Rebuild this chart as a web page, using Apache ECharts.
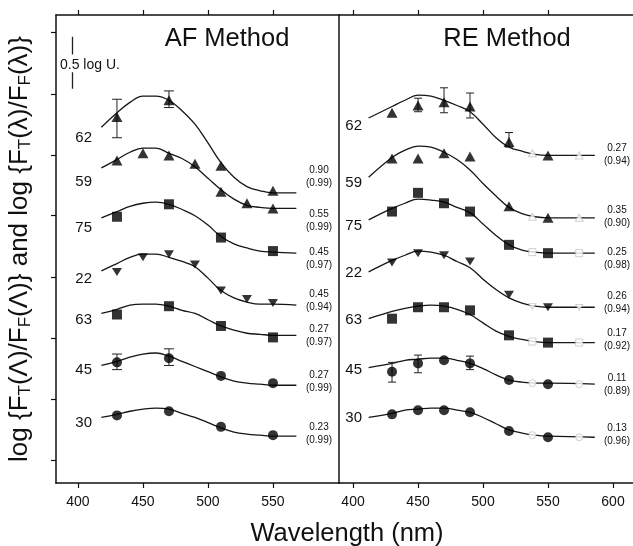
<!DOCTYPE html>
<html><head><meta charset="utf-8">
<script src="https://cdn.jsdelivr.net/npm/echarts@6/dist/echarts.min.js"></script>
<style>html,body{margin:0;padding:0;background:#fff}#c{width:633px;height:546px}</style>
</head><body><div id="c"></div>
<script>
// ---------- DATA (log units, wavelength nm) ----------
const rowLabels = ['62','59','75','22','63','45','30'];
const rowKinds  = ['up','up','square','down','square','circle','circle'];

// AF method: fitted curves
const afFitLam = [418,430,440,450,460,470,480,490,500,510,520,530,540,550,568];
const afFit62 = [3.42,3.56,3.66,3.72,3.72,3.68,3.58,3.45,3.27,3.08,2.94,2.85,2.81,2.79,2.79];
const afFit59 = [3.03,3.11,3.18,3.22,3.22,3.17,3.12,3.04,2.93,2.82,2.73,2.67,2.65,2.64,2.64];
const afFit75 = [2.55,2.61,2.66,2.69,2.70,2.68,2.63,2.57,2.48,2.37,2.30,2.26,2.23,2.22,2.21];
const afFit22 = [2.04,2.11,2.17,2.20,2.20,2.17,2.13,2.08,1.97,1.85,1.78,1.74,1.72,1.72,1.71];
const afFit63 = [1.63,1.67,1.71,1.72,1.72,1.70,1.66,1.63,1.57,1.51,1.47,1.44,1.43,1.42,1.42];
const afFit45 = [1.13,1.17,1.21,1.24,1.25,1.22,1.17,1.12,1.07,1.02,0.98,0.96,0.95,0.94,0.94];
const afFit30 = [0.63,0.66,0.69,0.71,0.72,0.71,0.67,0.63,0.58,0.53,0.49,0.47,0.46,0.45,0.45];
// AF method: measured points
const afLam4 = [430,470,510,550];
const afLam7 = [430,450,470,490,510,530,550];
const afPts62 = [3.52,3.68,3.05,2.81];
const afPts59 = [3.10,3.17,3.15,3.07,2.80,2.69,2.64];
const afPts75 = [2.56,2.68,2.36,2.23];
const afPts22 = [2.03,2.17,2.20,2.10,1.85,1.77,1.73];
const afPts63 = [1.62,1.70,1.51,1.40];
const afPts45 = [1.16,1.20,1.03,0.96];
const afPts30 = [0.65,0.69,0.54,0.46];
// AF error bars [lambda, low, high]
const afErr = [[430,3.32,3.69],[470,3.61,3.77],[430,1.09,1.24],[470,1.13,1.29]];
const afSlope = ['0.90','0.55','0.45','0.45','0.27','0.27','0.23'];
const afR     = ['(0.99)','(0.99)','(0.97)','(0.94)','(0.97)','(0.99)','(0.99)'];

// RE method: fitted curves
const reFitLam = [412,430,440,450,460,470,480,490,500,510,520,530,540,550,586];
const reFit62 = [3.51,3.62,3.68,3.73,3.72,3.68,3.63,3.57,3.45,3.32,3.23,3.19,3.16,3.15,3.15];
const reFit59 = [2.94,3.13,3.20,3.24,3.23,3.18,3.11,3.01,2.88,2.76,2.65,2.59,2.56,2.55,2.55];
const reFit75 = [2.53,2.64,2.69,2.73,2.72,2.70,2.65,2.60,2.49,2.38,2.29,2.24,2.22,2.21,2.21];
const reFit22 = [2.03,2.14,2.19,2.23,2.22,2.19,2.13,2.07,1.96,1.86,1.78,1.73,1.70,1.69,1.69];
const reFit63 = [1.58,1.65,1.68,1.70,1.71,1.70,1.67,1.62,1.54,1.46,1.41,1.38,1.36,1.35,1.35];
const reFit45 = [1.11,1.15,1.18,1.19,1.20,1.20,1.18,1.15,1.10,1.04,0.99,0.97,0.96,0.96,0.95];
const reFit30 = [0.63,0.67,0.70,0.71,0.72,0.72,0.70,0.68,0.63,0.57,0.51,0.48,0.46,0.45,0.44];
// RE method: measured points (filled) and open points
const reLam = [430,450,470,490,520,550];
const reOpenLam = [538,574];
const rePts62 = [3.56,3.63,3.66,3.62,3.28,3.15];
const rePts59 = [3.12,3.12,3.17,3.14,2.66,2.55];
const rePts75 = [2.61,2.79,2.69,2.61,2.29,2.21];
const rePts22 = [2.12,2.21,2.19,2.13,1.81,1.69];
const rePts63 = [1.58,1.69,1.69,1.66,1.42,1.35];
const rePts45 = [1.07,1.15,1.18,1.15,0.99,0.95];
const rePts30 = [0.66,0.70,0.70,0.68,0.50,0.44];
const reOpen62 = [3.17,3.15];
const reOpen59 = [2.56,2.55];
const reOpen75 = [2.22,2.21];
const reOpen22 = [1.70,1.69];
const reOpen63 = [1.36,1.35];
const reOpen45 = [0.96,0.95];
const reOpen30 = [0.46,0.44];
const reErr = [[450,3.57,3.70],[470,3.56,3.80],[490,3.51,3.75],[520,3.23,3.37],
               [430,0.97,1.16],[450,1.06,1.23],[490,1.09,1.22]];
const reSlope = ['0.27','0.35','0.25','0.26','0.17','0.11','0.13'];
const reR     = ['(0.94)','(0.90)','(0.98)','(0.94)','(0.92)','(0.89)','(0.96)'];

// axis ticks
const xTicksAF = [400,450,500,550];
const xTicksRE = [400,450,500,550,600];
const xTopRE = [400,450,500,550];
const yTicks = [0.22,0.81,1.39,1.98,2.57,3.15,3.74,4.33];
// 0.5 log-unit scale bar
const scaleBarLam = 395.4;
const scaleBarTop = [4.29,4.12];
const scaleBarBot = [3.95,3.79];

// ---------- LAYOUT / STYLE ----------
const FONT = "'Liberation Sans', Arial, Helvetica, sans-serif";
const INK = '#111';
const symStyle = {
  up:     {symbol:'triangle', size:[11,10], rotate:0},
  down:   {symbol:'triangle', size:[10,8], rotate:180},
  square: {symbol:'rect', size:10, rotate:0},
  circle: {symbol:'circle', size:10, rotate:0}
};
const afLabelY = [138,182,228,279,320,370,423];
const reLabelY = [126,183,226,273,320,370,418];
const afNoteY = [177,221,259,301,336,382,434];
const reNoteY = [155,217,259,303,340,385,435];

const zip = (a,b)=>a.map((v,i)=>[v,b[i]]);
function fit(lam, vals, gi){
  return {type:'line', xAxisIndex:gi*2, yAxisIndex:gi, data:zip(lam,vals), smooth:0.4,
    symbol:'none', lineStyle:{color:'#161616', width:1.3}, z:2, silent:true};
}
function pts(lam, vals, kind, gi, open){
  const s = symStyle[kind];
  return {type:'scatter', xAxisIndex:gi*2, yAxisIndex:gi, data:zip(lam,vals),
    symbol:s.symbol, symbolRotate:s.rotate,
    symbolSize: open ? (Array.isArray(s.size)? s.size.map(v=>v*0.7): s.size*0.7) : s.size,
    itemStyle: open ? {color:'#fff', borderColor:'#c4c4c4', borderWidth:1} : {color:'#000'},
    z: 4, silent:true};
}
function err(data, gi, cap){
  return {type:'custom', xAxisIndex:gi*2, yAxisIndex:gi, data, z:3, silent:true,
    renderItem:(p,api)=>{
      const x = api.value(0);
      const a = api.coord([x, api.value(1)]), b = api.coord([x, api.value(2)]);
      const st = {stroke:'#222', lineWidth:1};
      return {type:'group', children:[
        {type:'line', shape:{x1:a[0],y1:a[1],x2:b[0],y2:b[1]}, style:st},
        {type:'line', shape:{x1:a[0]-cap,y1:a[1],x2:a[0]+cap,y2:a[1]}, style:st},
        {type:'line', shape:{x1:b[0]-cap,y1:b[1],x2:b[0]+cap,y2:b[1]}, style:st}]};
    }};
}

const afFits = [afFit62,afFit59,afFit75,afFit22,afFit63,afFit45,afFit30];
const afPts = [afPts62,afPts59,afPts75,afPts22,afPts63,afPts45,afPts30];
const afPtLam = [afLam4,afLam7,afLam4,afLam7,afLam4,afLam4,afLam4];
const reFits = [reFit62,reFit59,reFit75,reFit22,reFit63,reFit45,reFit30];
const rePts = [rePts62,rePts59,rePts75,rePts22,rePts63,rePts45,rePts30];
const reOpen = [reOpen62,reOpen59,reOpen75,reOpen22,reOpen63,reOpen45,reOpen30];

const series = [];
rowLabels.forEach((_,i)=>{
  series.push(fit(afFitLam, afFits[i], 0));
  series.push(pts(afPtLam[i], afPts[i], rowKinds[i], 0, false));
  series.push(fit(reFitLam, reFits[i], 1));
  series.push(pts(reOpenLam, reOpen[i], rowKinds[i], 1, true));
  series.push(pts(reLam, rePts[i], rowKinds[i], 1, false));
});
series.push(err(afErr, 0, 5));
series.push(err(reErr, 1, 4));
series.push({type:'lines', coordinateSystem:'cartesian2d', xAxisIndex:0, yAxisIndex:0, silent:true,
  lineStyle:{color:'#222', width:1.3, opacity:1},
  data:[{coords:[[scaleBarLam,scaleBarTop[0]],[scaleBarLam,scaleBarTop[1]]]},
        {coords:[[scaleBarLam,scaleBarBot[0]],[scaleBarLam,scaleBarBot[1]]]}]});

const axLine = {show:true, lineStyle:{color:INK, width:1.5}};
const tick = (vals)=>({show:true, inside:false, length:5, customValues:vals, lineStyle:{color:INK, width:1.2}});
function xAx(gi, pos, min, max, ticks, labels){
  return {type:'value', gridIndex:gi, position:pos, min, max, axisLine:axLine,
    axisTick:tick(ticks), splitLine:{show:false},
    axisLabel: labels ? {show:true, customValues:ticks, fontSize:14, color:INK, fontFamily:FONT, margin:12}
                      : {show:false}};
}

const graphic = [];
const txt = (x,y,text,size,align,extra)=>Object.assign({type:'text', x, y, silent:true,
  style:Object.assign({text, fontSize:size, fontFamily:FONT, fill:INK, align:align||'center', verticalAlign:'middle'}, extra||{})});
graphic.push(txt(227,39,'AF Method',25.5));
graphic.push(txt(507,39,'RE Method',25.5));
graphic.push(txt(60,65,'0.5 log U.',14,'left'));
graphic.push(txt(347,534,'Wavelength (nm)',25.5));
rowLabels.forEach((l,i)=>{
  graphic.push(txt(92, afLabelY[i], l, 15, 'right'));
  graphic.push(txt(362, reLabelY[i], l, 15, 'right'));
  graphic.push(txt(319, afNoteY[i], afSlope[i]+'\n'+afR[i], 10, 'center', {lineHeight:13}));
  graphic.push(txt(617, reNoteY[i], reSlope[i]+'\n'+reR[i], 10, 'center', {lineHeight:13}));
});
graphic.push({type:'text', x:20, y:249, rotation:Math.PI/2, silent:true,
  style:{text:'log {F{s|T}(Λ)/F{s|F}(Λ)} and log {F{s|T}(λ)/F{s|F}(λ)}',
    fontSize:26, fontFamily:FONT, fill:INK, align:'center', verticalAlign:'middle',
    rich:{s:{fontSize:17, fontFamily:FONT, fill:INK, padding:[11,0,0,0]}}}});

const chart = echarts.init(document.getElementById('c'));
chart.setOption({
  animation:false,
  backgroundColor:'#fff',
  grid:[{left:56, top:15, width:283, height:468},{left:339, top:15, width:294, height:468}],
  xAxis:[
    xAx(0,'bottom',383.1,600.8,xTicksAF,true),
    xAx(0,'top',383.1,600.8,xTicksAF,false),
    xAx(1,'bottom',389.2,615.4,xTicksRE,true),
    xAx(1,'top',389.2,615.4,xTopRE,false)
  ],
  yAxis:[
    {type:'value', gridIndex:0, min:0, max:4.5, position:'left', axisLine:axLine, axisTick:tick(yTicks),
     axisLabel:{show:false}, splitLine:{show:false}},
    {type:'value', gridIndex:1, min:0, max:4.5, position:'left', axisLine:axLine, axisTick:{show:false},
     axisLabel:{show:false}, splitLine:{show:false}}
  ],
  series,
  graphic
});
</script></body></html>
